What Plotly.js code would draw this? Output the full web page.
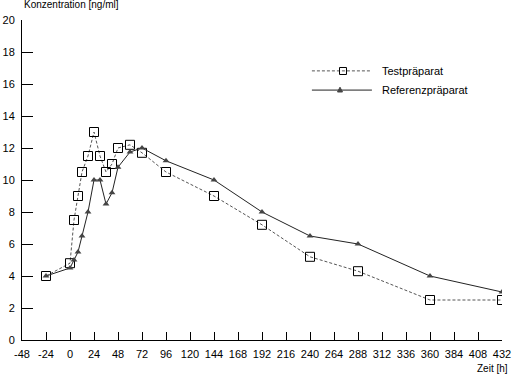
<!DOCTYPE html>
<html>
<head>
<meta charset="utf-8">
<script src="https://cdn.plot.ly/plotly-3.0.1.min.js"></script>
<style>html,body{margin:0;padding:0;background:#fff;}#chart{width:518px;height:375px;}</style>
</head>
<body>
<div id="chart"></div>
<script>
// Data
const testTimes = [-24, 0, 4, 8, 12, 18, 24, 30, 36, 42, 48, 60, 72, 96, 144, 192, 240, 288, 360, 432];
const testConc  = [4.0, 4.8, 7.5, 9.0, 10.5, 11.5, 13.0, 11.5, 10.5, 11.0, 12.0, 12.2, 11.7, 10.5, 9.0, 7.2, 5.2, 4.3, 2.5, 2.5];
const refTimes  = [-24, 0, 4, 8, 12, 18, 24, 30, 36, 42, 48, 60, 72, 96, 144, 192, 240, 288, 360, 432];
const refConc   = [4.0, 4.5, 5.0, 5.5, 6.5, 8.0, 10.0, 10.0, 8.5, 9.2, 10.8, 11.75, 12.0, 11.2, 10.0, 8.0, 6.5, 6.0, 4.0, 3.0];
const seriesNames = ['Testpräparat', 'Referenzpräparat'];
const xTicks = [-48, -24, 0, 24, 48, 72, 96, 120, 144, 168, 192, 216, 240, 264, 288, 312, 336, 360, 384, 408, 432];
const yTicks = [0, 2, 4, 6, 8, 10, 12, 14, 16, 18, 20];

const FAM = 'Liberation Sans, Arial, sans-serif';
const font = {family: FAM, size: 11, color: '#000'};
const testLine = {color: '#555', width: 1, dash: '3px,2px'};
const refLine = {color: '#222', width: 1};

const traces = [
  {
    x: testTimes, y: testConc, name: seriesNames[0], type: 'scatter', mode: 'lines+markers',
    line: testLine,
    marker: {symbol: 'square-open', size: 9, color: '#000', line: {width: 1, color: '#000'}}
  },
  {
    x: refTimes, y: refConc, name: seriesNames[1], type: 'scatter', mode: 'lines+markers',
    line: refLine,
    marker: {symbol: 'triangle-up', size: 6, color: '#444'}
  }
];

// Hand-made legend (longer sample lines as in the reference)
const legendShapes = [
  {type: 'line', xref: 'paper', yref: 'paper', x0: 0.604, x1: 0.729, y0: 0.841, y1: 0.841, line: testLine},
  {type: 'rect', xref: 'paper', yref: 'paper', x0: 0.6615, x1: 0.676, y0: 0.8297, y1: 0.8516,
   line: {color: '#000', width: 1}, fillcolor: 'rgba(0,0,0,0)'},
  {type: 'line', xref: 'paper', yref: 'paper', x0: 0.604, x1: 0.729, y0: 0.781, y1: 0.781, line: refLine},
  {type: 'path', xref: 'paper', yref: 'paper', path: 'M0.6573,0.775 L0.6677,0.775 L0.6625,0.790 Z',
   line: {color: '#444', width: 1}, fillcolor: '#444'}
];

const layout = {
  width: 518, height: 375,
  margin: {l: 22, r: 16, t: 20, b: 35, pad: 0},
  paper_bgcolor: '#fff', plot_bgcolor: '#fff',
  font: font,
  showlegend: false,
  shapes: legendShapes,
  xaxis: {
    range: [-48, 432], tickvals: xTicks, ticktext: xTicks.map(String),
    ticks: 'inside', ticklen: 8, tickcolor: '#000', tickwidth: 1,
    showline: true, linecolor: '#000', linewidth: 1,
    showgrid: false, zeroline: false, ticklabelstandoff: 4,
    tickfont: font, fixedrange: true
  },
  yaxis: {
    range: [0, 20], tickvals: yTicks, ticktext: yTicks.map(String),
    ticks: 'inside', ticklen: 11, tickcolor: '#000', tickwidth: 1,
    showline: true, linecolor: '#000', linewidth: 1,
    showgrid: false, zeroline: false, ticklabelstandoff: 4,
    tickfont: font, fixedrange: true
  },
  annotations: [
    {text: 'Konzentration [ng/ml]', xref: 'paper', yref: 'paper', x: 0, y: 1, xanchor: 'left', yanchor: 'bottom',
     yshift: 8, showarrow: false, font: {family: FAM, size: 10, color: '#000'}},
    {text: 'Zeit [h]', xref: 'paper', yref: 'paper', x: 1, y: 0, xanchor: 'right', yanchor: 'top',
     yshift: -21, xshift: 8, showarrow: false, font: {family: FAM, size: 10, color: '#000'}},
    {text: seriesNames[0], xref: 'paper', yref: 'paper', x: 0.746, y: 0.841, xanchor: 'left', yanchor: 'middle',
     showarrow: false, font: font},
    {text: seriesNames[1], xref: 'paper', yref: 'paper', x: 0.746, y: 0.781, xanchor: 'left', yanchor: 'middle',
     showarrow: false, font: font}
  ]
};

Plotly.newPlot('chart', traces, layout, {displayModeBar: false, staticPlot: true});
</script>
</body>
</html>
